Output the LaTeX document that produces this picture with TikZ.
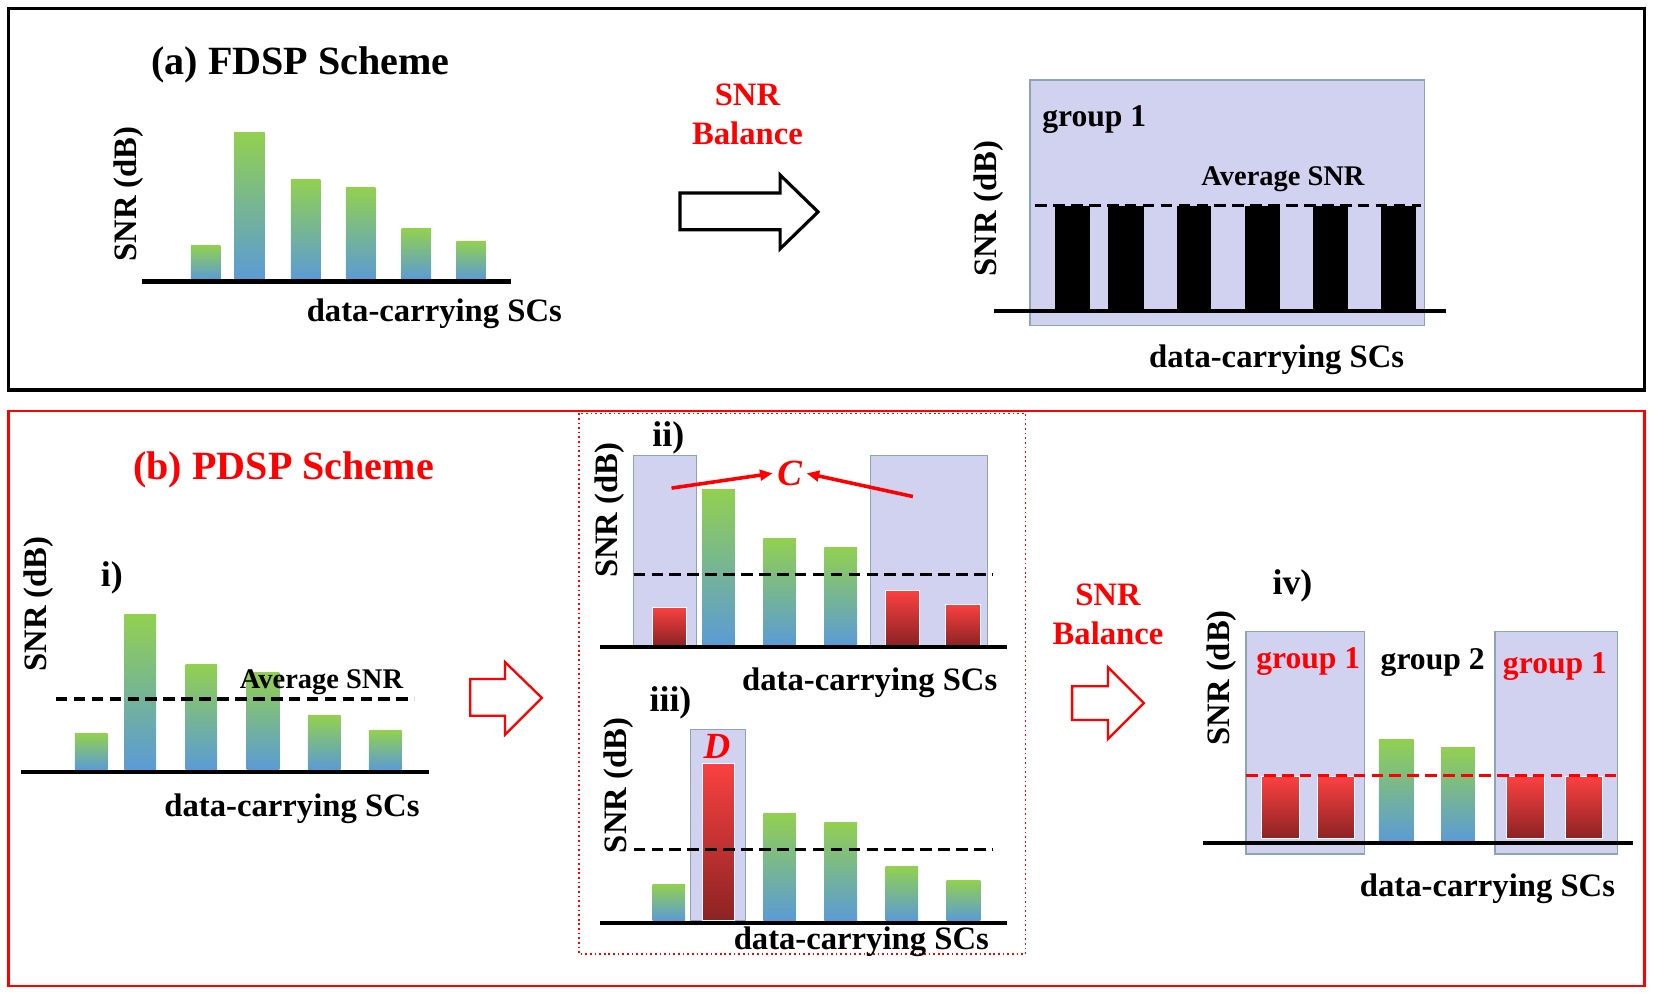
\documentclass[tikz,border=0pt]{standalone}
\usepackage{fontspec}
\setmainfont{Liberation Serif}
\usetikzlibrary{arrows.meta}
\definecolor{barg}{RGB}{146,208,80}
\definecolor{barb}{RGB}{91,155,213}
\definecolor{lav}{RGB}{208,210,240}
\definecolor{lavb}{RGB}{140,165,180}
\definecolor{redt}{RGB}{250,65,65}
\definecolor{redb}{RGB}{140,35,35}
\begin{document}
\begin{tikzpicture}[x=0.5pt,y=-0.5pt,
  lab/.style={font=\fontsize{15.5}{18}\selectfont\bfseries, inner sep=0pt},
  ttl/.style={font=\fontsize{19}{22}\selectfont\bfseries, inner sep=0pt},
  grp/.style={font=\fontsize{15}{18}\selectfont\bfseries, inner sep=0pt},
  avg/.style={font=\fontsize{13.5}{16}\selectfont\bfseries, inner sep=0pt},
  num/.style={font=\fontsize{17}{20}\selectfont\bfseries, inner sep=0pt},
  cd/.style={font=\fontsize{17.5}{20}\selectfont\bfseries\itshape, text=red, inner sep=2pt},
  bal/.style={font=\fontsize{15.5}{18.5}\selectfont\bfseries, text=red, align=center, inner sep=0pt},
  gbar/.style={top color=barg, bottom color=barb},
  rbar/.style={top color=redt, bottom color=redb, draw=white, line width=0.5pt},
  grpbox/.style={fill=lav, draw=lavb, line width=0.6pt},
  axisline/.style={line width=2pt, black},
  avgline/.style={line width=1.5pt, dash pattern=on 5.5pt off 3pt},
  hollow/.style={line width=1.5pt, fill=white, draw=black},
  rhollow/.style={line width=1.1pt, fill=white, draw=red},
  carrow/.style={red, line width=1.7pt, -{Triangle[length=6pt,width=5pt]}}
]
\useasboundingbox (0,0) rectangle (1568,941);
% frames
\draw[line width=1.5pt, black] (8,8) rectangle (1560,370);
\draw[line width=1.1pt, red] (8,390) rectangle (1560,935);
\draw[red, line width=0.7pt, dash pattern=on 0.8pt off 1.4pt] (549,392) rectangle (973,905);

% ===== (a) left =====
\node[ttl] (ta) at (285,62) {(a) FDSP Scheme};
\shade[gbar] (181,233) rectangle (209,265);
\shade[gbar] (222,126) rectangle (251,265);
\shade[gbar] (276,170) rectangle (304,265);
\shade[gbar] (328,178) rectangle (356,265);
\shade[gbar] (381,217) rectangle (409,265);
\shade[gbar] (433,229) rectangle (461,265);
\draw[axisline] (135,267) -- (485,267);
\node[lab, rotate=90] (snra1) at (122,184) {SNR (dB)};
\node[lab] (dcsa1) at (412,298) {data-carrying SCs};

% arrow + balance
\node[bal] (bala) at (709,108) {SNR\\Balance};
\draw[hollow] (645,183) -- (740,183) -- (740,166) -- (776,201) -- (740,236) -- (740,218) -- (645,218) -- cycle;

% ===== (a) right =====
\draw[grpbox] (977,76) rectangle (1351,309);
\node[grp] (ga) at (1038,113) {group 1};
\node[avg] (avga) at (1217,170) {Average SNR};
\draw[avgline] (982,195) -- (1348,195);
\foreach \xa/\xb in {1001/1034,1051/1085,1116/1149,1181/1214,1245/1279,1310/1343}
  \fill[black] (\xa,195) rectangle (\xb,295);
\draw[axisline] (943,295) -- (1372,295);
\node[lab, rotate=90] (snra2) at (938,198) {SNR (dB)};
\node[lab] (dcsa2) at (1211,341) {data-carrying SCs};

% ===== (b) i =====
\node[ttl, text=red] (tb) at (269,446) {(b) PDSP Scheme};
\node[lab, rotate=90] (snrb1) at (37,573) {SNR (dB)};
\node[num] (ni) at (106,548) {i)};
\shade[gbar] (71,696) rectangle (102,730);
\shade[gbar] (118,583) rectangle (148,730);
\shade[gbar] (176,630) rectangle (206,730);
\shade[gbar] (234,638) rectangle (265,730);
\shade[gbar] (292,679) rectangle (323,730);
\shade[gbar] (350,693) rectangle (381,730);
\draw[avgline] (53,663) -- (393,663);
\node[avg] (avgb) at (305,647) {Average SNR};
\draw[axisline] (20,732) -- (407,732);
\node[lab] (dcsb1) at (277,767) {data-carrying SCs};

\draw[rhollow] (446,644) -- (479,644) -- (479,628) -- (514,662) -- (479,697) -- (479,679) -- (446,679) -- cycle;

% ===== (b) ii =====
\node[num] (nii) at (634,415) {ii)};
\draw[grpbox] (601,432) rectangle (661,612);
\draw[grpbox] (826,432) rectangle (937,612);
\shade[rbar] (619,576) rectangle (651,612);
\shade[gbar] (666,464) rectangle (697,612);
\shade[gbar] (724,511) rectangle (755,612);
\shade[gbar] (782,519) rectangle (813,612);
\shade[rbar] (840,560) rectangle (872,612);
\shade[rbar] (897,573) rectangle (930,612);
\draw[avgline] (601,545) -- (942,545);
\draw[axisline] (569,614) -- (955,614);
\node[cd] (C) at (749,449) {C};
\coordinate (c1) at (637,463);
\coordinate (c2) at (866,471);
\draw[carrow] (c1) -- (C.west);
\draw[carrow] (c2) -- (C.east);
\node[lab, rotate=90] (snrb2) at (578,484) {SNR (dB)};
\node[lab] (dcsb2) at (825,648) {data-carrying SCs};

% ===== (b) iii =====
\node[num] (niii) at (636,667) {iii)};
\draw[grpbox] (655,692) rectangle (707,873);
\shade[gbar] (619,839) rectangle (650,873);
\shade[rbar] (666,724) rectangle (697,873);
\shade[gbar] (724,772) rectangle (755,873);
\shade[gbar] (782,780) rectangle (813,873);
\shade[gbar] (840,822) rectangle (871,873);
\shade[gbar] (898,835) rectangle (930,873);
\draw[avgline] (601,806) -- (942,806);
\draw[axisline] (569,875.5) -- (955,875.5);
\node[cd, inner sep=0pt] (D) at (680,708) {D};
\node[lab, rotate=90] (snrb3) at (587,745) {SNR (dB)};
\node[lab] (dcsb3) at (817,893) {data-carrying SCs};

% ===== (b) iv =====
\node[bal] (balb) at (1051,583) {SNR\\Balance};
\draw[rhollow] (1017,651) -- (1051,651) -- (1051,633) -- (1085,667) -- (1051,701) -- (1051,683) -- (1017,683) -- cycle;
\node[num] (niv) at (1226,556) {iv)};
\draw[grpbox] (1182,599) rectangle (1294,810);
\draw[grpbox] (1418,599) rectangle (1534,810);
\shade[rbar] (1197,737) rectangle (1233,795);
\shade[rbar] (1250,737) rectangle (1285,795);
\shade[rbar] (1429,737) rectangle (1465,795);
\shade[rbar] (1485,737) rectangle (1520,795);
\shade[gbar] (1308,701) rectangle (1341,798);
\shade[gbar] (1367,709) rectangle (1399,798);
\draw[avgline, red] (1182,735.5) -- (1536,735.5);
\draw[axisline, line width=1.6pt] (1141,799.5) -- (1549,799.5);
\node[grp, text=red] (g1l) at (1241,628) {group 1};
\node[grp] (g2) at (1359,628) {group 2};
\node[grp, text=red] (g1r) at (1475,632) {group 1};
\node[lab, rotate=90] (snrb4) at (1159,643) {SNR (dB)};
\node[lab] (dcsb4) at (1411,843) {data-carrying SCs};
\end{tikzpicture}
\end{document}
